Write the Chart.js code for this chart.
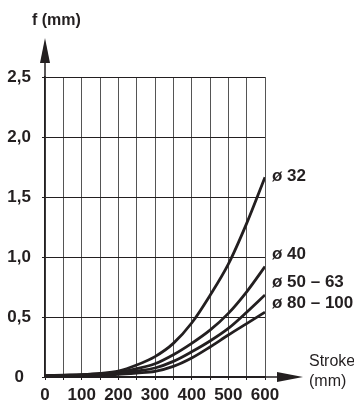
<!DOCTYPE html>
<html>
<head>
<meta charset="utf-8">
<script src="https://cdn.jsdelivr.net/npm/chart.js@4/dist/chart.umd.min.js"></script>
<style>
  html, body { margin: 0; padding: 0; background: #fff; }
  #wrap { width: 354px; height: 412px; position: relative; }
</style>
</head>
<body>
<div id="wrap"><canvas id="chart"></canvas></div>
<script>
// stroke (mm) and deflection f (mm) per bore
const strokes = [0, 50, 100, 150, 200, 250, 300, 350, 400, 450, 500, 550, 600];
const bore32 = [0.01, 0.015, 0.02, 0.03, 0.05, 0.10, 0.17, 0.28, 0.45, 0.68, 0.94, 1.28, 1.665];
const bore40 = [0.01, 0.013, 0.018, 0.025, 0.04, 0.07, 0.11, 0.185, 0.28, 0.39, 0.53, 0.71, 0.92];
const bore50 = [0.01, 0.012, 0.016, 0.021, 0.03, 0.05, 0.075, 0.13, 0.21, 0.30, 0.405, 0.54, 0.684];
const bore80 = [0.01, 0.011, 0.014, 0.017, 0.022, 0.033, 0.047, 0.088, 0.158, 0.25, 0.35, 0.445, 0.54];
const seriesLabels = ['ø 32', 'ø 40', 'ø 50 – 63', 'ø 80 – 100'];
const yTicks = [0, 0.5, 1.0, 1.5, 2.0, 2.5];

const ink = '#231f20';
const boldFont = { family: 'Liberation Sans, Arial, sans-serif', size: 17, weight: 'bold' };

const toPoints = (vals) => vals.map((v, i) => ({ x: strokes[i], y: v }));

// arrows, axis title and curve names
const decorations = {
  id: 'decorations',
  afterDraw(chart) {
    const { ctx, chartArea } = chart;
    const x0 = chartArea.left, y0 = chartArea.bottom;
    ctx.save();
    ctx.strokeStyle = ink;
    ctx.fillStyle = ink;
    ctx.lineWidth = 1.5;

    // y axis extension + arrow
    ctx.beginPath();
    ctx.moveTo(x0, chartArea.top);
    ctx.lineTo(x0, 60);
    ctx.stroke();
    ctx.beginPath();
    ctx.moveTo(x0, 38);
    ctx.lineTo(x0 - 5, 63);
    ctx.lineTo(x0 + 5, 63);
    ctx.closePath();
    ctx.fill();

    // x axis extension + arrow
    ctx.beginPath();
    ctx.moveTo(chartArea.right, y0);
    ctx.lineTo(280, y0);
    ctx.stroke();
    ctx.beginPath();
    ctx.moveTo(303, y0);
    ctx.lineTo(277, y0 - 5);
    ctx.lineTo(277, y0 + 5);
    ctx.closePath();
    ctx.fill();

    ctx.textBaseline = 'middle';
    ctx.textAlign = 'left';
    ctx.font = 'bold 16px "Liberation Sans", Arial, sans-serif';
    ctx.fillText('f (mm)', 32, 21);

    ctx.font = 'bold 17px "Liberation Sans", Arial, sans-serif';
    const labelY = [176, 254, 282, 303];
    seriesLabels.forEach((t, i) => ctx.fillText(t, 272, labelY[i]));

    ctx.font = '16px "Liberation Sans", Arial, sans-serif';
    ctx.fillText('Stroke', 309, 362);
    ctx.fillText('(mm)', 309, 382);
    ctx.restore();
  }
};

const lineStyle = {
  borderColor: ink,
  borderWidth: 2.8,
  pointRadius: 0,
  fill: false,
  cubicInterpolationMode: 'monotone',
};

new Chart(document.getElementById('chart'), {
  type: 'line',
  data: {
    datasets: [
      { label: seriesLabels[0], data: toPoints(bore32), ...lineStyle },
      { label: seriesLabels[1], data: toPoints(bore40), ...lineStyle },
      { label: seriesLabels[2], data: toPoints(bore50), ...lineStyle },
      { label: seriesLabels[3], data: toPoints(bore80), ...lineStyle },
    ],
  },
  options: {
    responsive: true,
    maintainAspectRatio: false,
    animation: false,
    layout: { padding: { top: 77, right: 89, left: 0, bottom: 0 } },
    plugins: { legend: { display: false }, tooltip: { enabled: false } },
    scales: {
      x: {
        type: 'linear',
        min: 0,
        max: 600,
        afterFit: (scale) => { scale.height = 35; },
        ticks: {
          stepSize: 50,
          autoSkip: false,
          maxRotation: 0,
          color: ink,
          font: boldFont,
          padding: 5,
          callback: (v) => (v % 100 === 0 ? String(v) : ''),
        },
        grid: { color: '#555', lineWidth: 1, tickLength: 3, tickColor: ink },
        border: { display: true, color: ink, width: 1.5 },
      },
      y: {
        min: 0,
        max: 2.5,
        afterFit: (scale) => { scale.width = 45; },
        afterBuildTicks: (scale) => { scale.ticks = yTicks.map((v) => ({ value: v })); },
        ticks: {
          color: ink,
          font: boldFont,
          crossAlign: 'center',
          padding: 11,
          callback: (v) => (v === 0 ? '0' : v.toFixed(1).replace('.', ',')),
        },
        grid: { color: ink, lineWidth: 1, tickLength: 3, tickColor: ink },
        border: { display: true, color: ink, width: 1.5 },
      },
    },
  },
  plugins: [decorations],
});
</script>
</body>
</html>
